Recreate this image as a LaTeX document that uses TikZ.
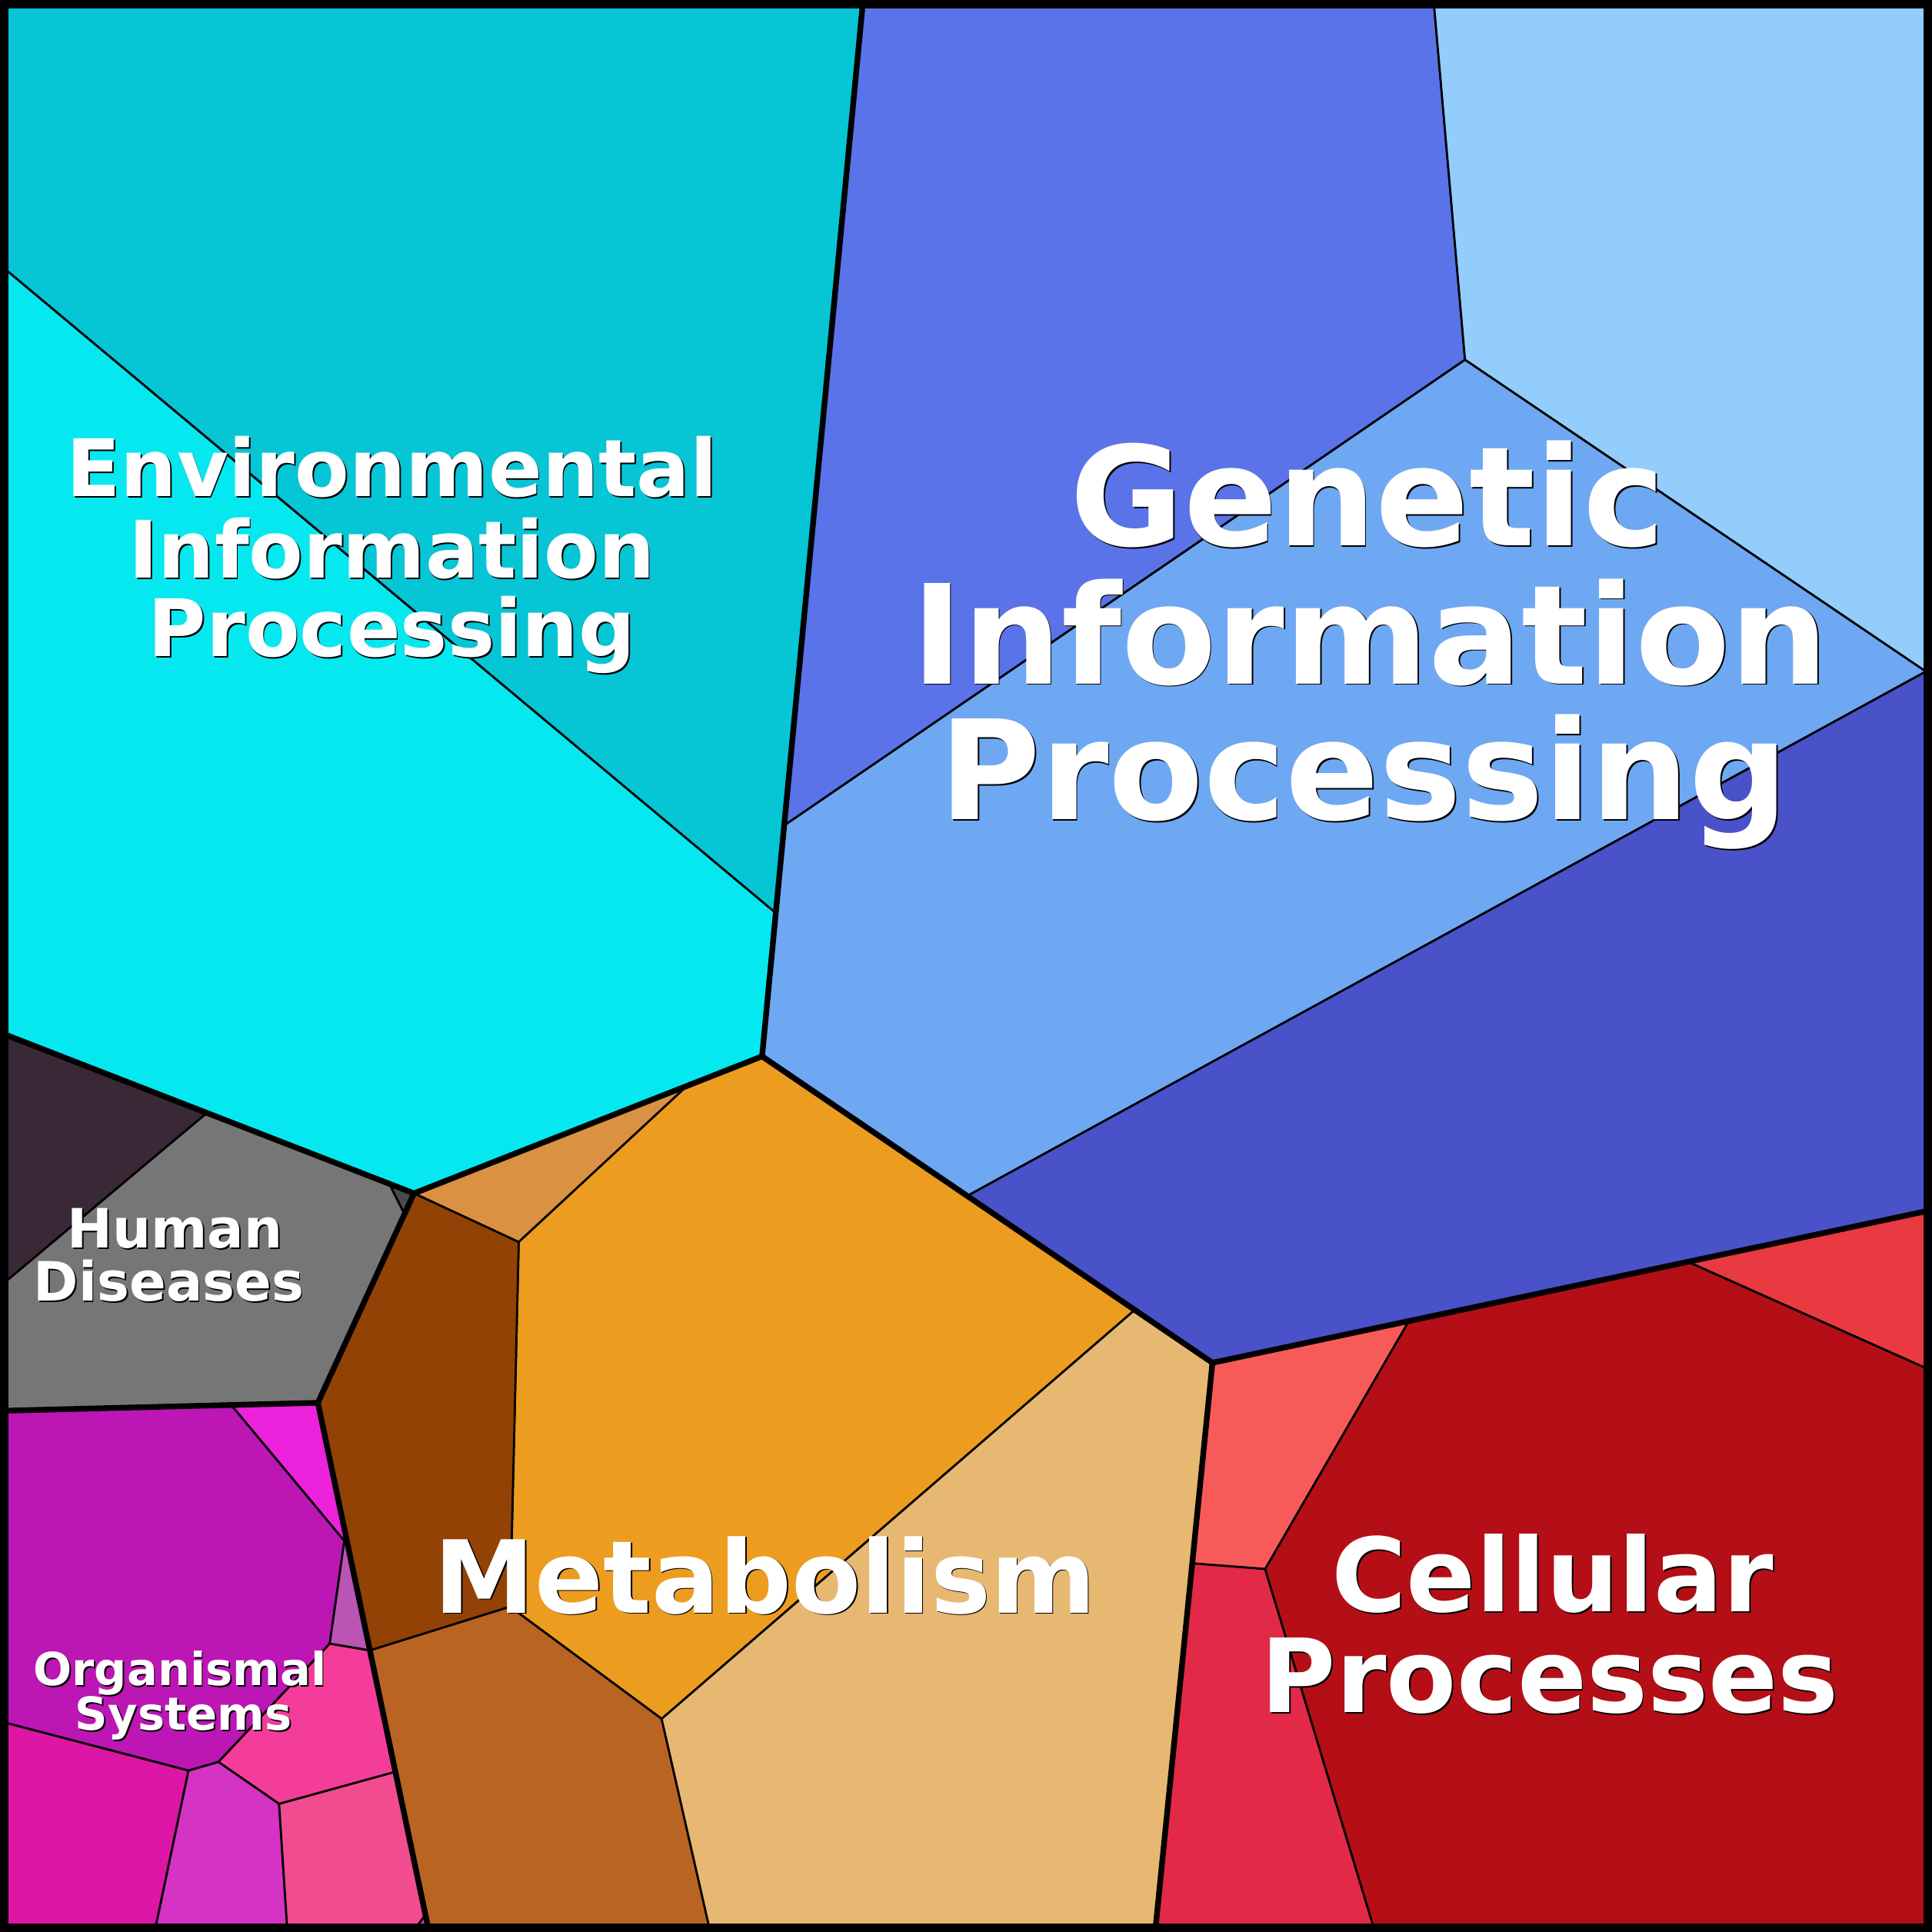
\documentclass[tikz,border=0pt]{standalone}
\usepackage{fontspec}
\setsansfont{DejaVu Sans}
\definecolor{envtop}{HTML}{06C5D5}
\definecolor{envbot}{HTML}{05E8EF}
\definecolor{genmed}{HTML}{5A73E8}
\definecolor{genlight}{HTML}{92CDFC}
\definecolor{genmid}{HTML}{6FA8F2}
\definecolor{gendark}{HTML}{4A52C9}
\definecolor{mettan}{HTML}{DA9142}
\definecolor{metorange}{HTML}{EC9C1F}
\definecolor{metdk}{HTML}{924204}
\definecolor{metmed}{HTML}{B96423}
\definecolor{metlt}{HTML}{E7B871}
\definecolor{cellcoral}{HTML}{F75B59}
\definecolor{cellcrim}{HTML}{E32948}
\definecolor{celldk}{HTML}{B40F16}
\definecolor{cellred}{HTML}{E83A40}
\definecolor{hddark}{HTML}{392836}
\definecolor{hdgray}{HTML}{767676}
\definecolor{hdtri}{HTML}{4A4A4A}
\definecolor{orgpurple}{HTML}{BC16B4}
\definecolor{orgbm}{HTML}{EC22DC}
\definecolor{orglp}{HTML}{BB55B5}
\definecolor{orgpink}{HTML}{F43C9A}
\definecolor{orgdeep}{HTML}{DC16A5}
\definecolor{orgmp}{HTML}{D433C3}
\definecolor{orgpinkb}{HTML}{F04C8F}
\tikzset{
  cell/.style={draw=black,line width=0.48pt,line join=round},
  bigedge/.style={draw=black,line width=1.31pt,line join=round,line cap=round},
  lblw/.style={anchor=base,text=white,inner sep=0pt},
  lblb/.style={anchor=base,text=black,inner sep=0pt}
}
\newcommand{\celllabel}[5]{%
  \node[lblb,font=\sffamily\bfseries\fontsize{#4}{#4}\selectfont] at (#2+1.1,#3+1.1) {#5};
  \node[lblw,font=\sffamily\bfseries\fontsize{#4}{#4}\selectfont] (#1) at (#2,#3) {#5};}
\begin{document}
\begin{tikzpicture}[x=0.01cm,y=-0.01cm]
\useasboundingbox (0,0) rectangle (1568,1568);
% vertices
\coordinate (A) at (700.5,0);
\coordinate (B) at (636.4,670);
\coordinate (C) at (629.6,741);
\coordinate (D) at (618.5,857.3);
\coordinate (El) at (0,215);
\coordinate (F) at (0,838);
\coordinate (G) at (168,903.2);
\coordinate (H) at (336,968.5);
\coordinate (T1) at (316,960.7);
\coordinate (T3) at (328.2,985);
\coordinate (I) at (258,1138.5);
\coordinate (J) at (0,1145);
\coordinate (HL) at (0,1044);
\coordinate (K) at (557.6,881.3);
\coordinate (L) at (421,1008);
\coordinate (M) at (414,1304);
\coordinate (N) at (300.2,1339.5);
\coordinate (O) at (537,1395);
\coordinate (P) at (576.5,1568);
\coordinate (Q) at (785,970.6);
\coordinate (Rm) at (921,1063.1);
\coordinate (R) at (984,1106);
\coordinate (S) at (937.5,1568);
\coordinate (T) at (348.2,1568);
\coordinate (U) at (1163.5,0);
\coordinate (V) at (1189,292);
\coordinate (Wj) at (1563,545);
\coordinate (We) at (1568,545);
\coordinate (Y) at (1568,982);
\coordinate (Z1) at (1143.4,1072.2);
\coordinate (Z2) at (1370,1024);
\coordinate (Z3) at (1568,1112.5);
\coordinate (Z4) at (1026.8,1273.4);
\coordinate (Z5) at (967.6,1268.8);
\coordinate (Z6) at (1116,1568);
\coordinate (O1) at (187.5,1140);
\coordinate (O2) at (279.5,1250.5);
\coordinate (O2t) at (281.5,1250.5);
\coordinate (O3) at (267.6,1334);
\coordinate (O4) at (177.3,1430);
\coordinate (O5) at (153,1437);
\coordinate (O6) at (0,1397);
\coordinate (O7) at (320.9,1438);
\coordinate (O8) at (226.5,1464);
\coordinate (O9) at (125.5,1568);
\coordinate (O10) at (233.3,1568);
\coordinate (Tn) at (345.3,1554);
\coordinate (Tl) at (335,1568);
% Environmental Information Processing
\path[cell,fill=envtop] (0,0) -- (A) -- (B) -- (C) -- (El) -- cycle;
\path[cell,fill=envbot] (El) -- (C) -- (D) -- (K) -- (H) -- (T1) -- (G) -- (F) -- cycle;
% Genetic Information Processing
\path[cell,fill=genmed] (A) -- (U) -- (V) -- (B) -- cycle;
\path[cell,fill=genlight] (U) -- (1568,0) -- (We) -- (Wj) -- (V) -- cycle;
\path[cell,fill=genmid] (B) -- (V) -- (Wj) -- (Q) -- (D) -- (C) -- cycle;
\path[cell,fill=gendark] (Q) -- (Wj) -- (We) -- (Y) -- (Z2) -- (Z1) -- (R) -- (Rm) -- cycle;
% Metabolism
\path[cell,fill=mettan] (H) -- (K) -- (L) -- cycle;
\path[cell,fill=metorange] (K) -- (D) -- (Q) -- (Rm) -- (O) -- (M) -- (L) -- cycle;
\path[cell,fill=metdk] (H) -- (L) -- (M) -- (N) -- (I) -- (T3) -- cycle;
\path[cell,fill=metmed] (N) -- (M) -- (O) -- (P) -- (T) -- (Tn) -- (O7) -- cycle;
\path[cell,fill=metlt] (Rm) -- (R) -- (Z5) -- (S) -- (P) -- (O) -- cycle;
% Cellular Processes
\path[cell,fill=cellcoral] (R) -- (Z1) -- (Z4) -- (Z5) -- cycle;
\path[cell,fill=cellcrim] (Z5) -- (Z4) -- (Z6) -- (S) -- cycle;
\path[cell,fill=celldk] (Z1) -- (Z2) -- (Z3) -- (1568,1568) -- (Z6) -- (Z4) -- cycle;
\path[cell,fill=cellred] (Z2) -- (Y) -- (Z3) -- cycle;
% Human Diseases
\path[cell,fill=hddark] (F) -- (G) -- (HL) -- cycle;
\path[cell,fill=hdgray] (G) -- (T1) -- (T3) -- (I) -- (J) -- (HL) -- cycle;
\path[cell,fill=hdtri] (T1) -- (H) -- (T3) -- cycle;
% Organismal Systems
\path[cell,fill=orgpurple] (J) -- (O1) -- (O2) -- (O3) -- (O4) -- (O5) -- (O6) -- cycle;
\path[cell,fill=orgbm] (O1) -- (I) -- (O2t) -- (O2) -- cycle;
\path[cell,fill=orglp] (O2) -- (O2t) -- (N) -- (O3) -- cycle;
\path[cell,fill=orgpink] (O3) -- (N) -- (O7) -- (O8) -- (O4) -- cycle;
\path[cell,fill=orgdeep] (O6) -- (O5) -- (O9) -- (0,1568) -- cycle;
\path[cell,fill=orgmp] (O5) -- (O4) -- (O8) -- (O10) -- (O9) -- cycle;
\path[cell,fill=orgpinkb] (O8) -- (O7) -- (Tn) -- (Tl) -- (O10) -- cycle;
\path[cell,fill=orgmp] (Tl) -- (Tn) -- (T) -- cycle;
% top-level boundaries
\draw[bigedge] (A) -- (D);
\draw[bigedge] (F) -- (H) -- (D);
\draw[bigedge] (D) -- (R);
\draw[bigedge] (R) -- (Y);
\draw[bigedge] (R) -- (S);
\draw[bigedge] (H) -- (I);
\draw[bigedge] (I) -- (J);
\draw[bigedge] (I) -- (T);
% outer frame
\draw[line width=1.99pt] (3.5,3.5) rectangle (1564.5,1564.5);
% labels
\celllabel{envA}{318}{403}{18.3pt}{Environmental}
\celllabel{envB}{318}{469}{18.3pt}{Information}
\celllabel{envC}{318}{533}{18.3pt}{Processing}
\celllabel{genA}{1110}{443}{31.9pt}{Genetic}
\celllabel{genB}{1112}{555}{31.9pt}{Information}
\celllabel{genC}{1107}{665}{31.9pt}{Processing}
\celllabel{met}{621}{1309}{23.3pt}{Metabolism}
\celllabel{cellA}{1260}{1308}{23.6pt}{Cellular}
\celllabel{cellB}{1258}{1390}{23.6pt}{Processes}
\celllabel{hdA}{142}{1013}{12.5pt}{Human}
\celllabel{hdB}{137}{1056}{12.5pt}{Diseases}
\celllabel{orgA}{146}{1368}{10.5pt}{Organismal}
\celllabel{orgB}{149}{1404}{10.5pt}{Systems}
\end{tikzpicture}
\end{document}
